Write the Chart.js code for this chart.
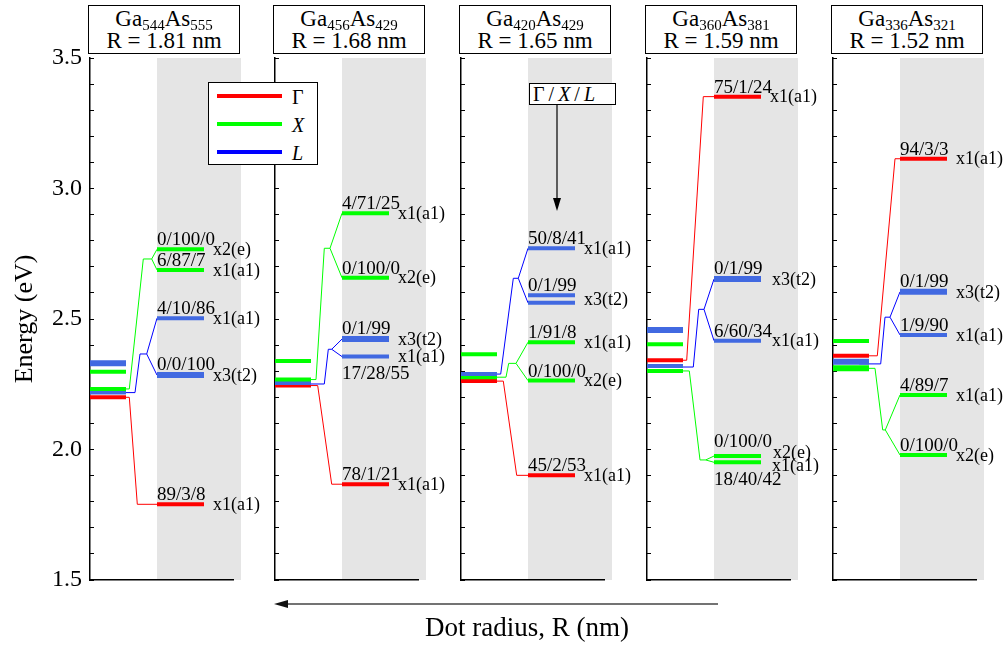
<!DOCTYPE html>
<html>
<head>
<meta charset="utf-8">
<script src="https://cdn.jsdelivr.net/npm/chart.js@4.4.1/dist/chart.umd.min.js"></script>
<style>
  body { margin: 0; background: #fff; font-family: 'Liberation Serif', serif; color: #000; }
  #wrap { position: relative; width: 1004px; height: 647px; overflow: hidden; }
  #wrap canvas { position: absolute; left: 0; top: 0; }
  .hdr { position: absolute; top: 5px; width: 152px; height: 49px; box-sizing: border-box;
         border: 1.5px solid #000; background: #fff; text-align: center;
         font-size: 23px; line-height: 19px; padding-top: 3px; }
  .hdr .sb { font-size: 15px; position: relative; top: 4px; }
  #legend { position: absolute; left: 208px; top: 82px; width: 110px; height: 83px; box-sizing: border-box;
            border: 1.3px solid #000; background: #fff; }
  #legend .ln { position: absolute; left: 8px; width: 65px; height: 4px; }
  #legend .lb { position: absolute; left: 83px; font-size: 20px; line-height: 20px; }
  #note { position: absolute; left: 529px; top: 83px; width: 87px; height: 22px; box-sizing: border-box;
          border: 1.2px solid #000; background: #fff; font-size: 20px; line-height: 20px; padding-left: 3px; }
  #xlab { position: absolute; left: 327px; top: 614px; width: 400px; text-align: center;
          font-size: 27px; line-height: 27px; }
  svg { position: absolute; left: 0; top: 0; }
</style>
</head>
<body>
<div id="wrap"></div>
<script>
// ---- data ----
const dotGa = ['544', '456', '420', '360', '336'];
const dotAs = ['555', '429', '429', '381', '321'];
const radii = ['1.81', '1.68', '1.65', '1.59', '1.52'];

// bulk-derived levels (left column): [band, energy eV, degeneracy]
const bulkLevels = [
  [['L', 2.330, 3], ['X', 2.298, 1], ['X', 2.232, 1], ['L', 2.218, 1], ['G', 2.200, 1]],
  [['X', 2.339, 1], ['X', 2.268, 1], ['L', 2.255, 1], ['G', 2.245, 1]],
  [['X', 2.365, 1], ['L', 2.289, 1], ['X', 2.277, 1], ['G', 2.262, 1]],
  [['L', 2.458, 3], ['X', 2.403, 1], ['G', 2.342, 1], ['L', 2.320, 1], ['X', 2.301, 1]],
  [['X', 2.416, 1], ['G', 2.359, 1], ['L', 2.336, 3], ['X', 2.311, 3]]
];

// dot levels (right column): [band, energies, Γ/X/L composition, degeneracy(symmetry)]
const dotLevels = [
  [['X', [2.767], '0/100/0', 'x2(e)'], ['X', [2.688], '6/87/7', 'x1(a1)'],
   ['L', [2.503], '4/10/86', 'x1(a1)'], ['L', [2.285], '0/0/100', 'x3(t2)'],
   ['G', [1.790], '89/3/8', 'x1(a1)']],
  [['X', [2.905], '4/71/25', 'x1(a1)'], ['X', [2.658], '0/100/0', 'x2(e)'],
   ['L', [2.423], '0/1/99', 'x3(t2)'], ['L', [2.356], '17/28/55', 'x1(a1)'],
   ['G', [1.867], '78/1/21', 'x1(a1)']],
  [['L', [2.771], '50/8/41', 'x1(a1)'], ['L', [2.591, 2.562], '0/1/99', 'x3(t2)'],
   ['X', [2.411], '1/91/8', 'x1(a1)'], ['X', [2.264], '0/100/0', 'x2(e)'],
   ['G', [1.901], '45/2/53', 'x1(a1)']],
  [['G', [3.352], '75/1/24', 'x1(a1)'], ['L', [2.653], '0/1/99', 'x3(t2)'],
   ['L', [2.417], '6/60/34', 'x1(a1)'], ['X', [1.975], '0/100/0', 'x2(e)'],
   ['X', [1.951], '18/40/42', 'x1(a1)']],
  [['G', [3.114], '94/3/3', 'x1(a1)'], ['L', [2.604], '0/1/99', 'x3(t2)'],
   ['L', [2.439], '1/9/90', 'x1(a1)'], ['X', [2.209], '4/89/7', 'x1(a1)'],
   ['X', [1.979], '0/100/0', 'x2(e)']]
];

// correlation lines: [band, trunk points [x, E], target energies]
const links = [
  [['G', [[36, 2.200], [39.3, 2.200], [47.3, 1.790]], [1.790]],
   ['X', [[36, 2.232], [39.3, 2.232], [53.3, 2.730], [61.7, 2.730]], [2.767, 2.688]],
   ['L', [[36, 2.218], [45, 2.218], [50, 2.366], [56.7, 2.366]], [2.503, 2.285]]],
  [['X', [[36, 2.268], [41, 2.268], [49.3, 2.771], [55, 2.771]], [2.905, 2.658]],
   ['L', [[36, 2.251], [49.3, 2.251], [53.3, 2.384], [56.7, 2.384]], [2.423, 2.356]],
   ['G', [[36, 2.245], [42.7, 2.245], [56.7, 1.867]], [1.867]]],
  [['L', [[36, 2.289], [39.7, 2.289], [52.3, 2.656], [57.3, 2.656]], [2.771, 2.562]],
   ['X', [[36, 2.277], [45, 2.277], [47.7, 2.330], [55, 2.330]], [2.411, 2.264]],
   ['G', [[36, 2.262], [42.3, 2.262], [55.7, 1.901]], [1.901]]],
  [['G', [[36, 2.342], [39.7, 2.342], [56.3, 3.352]], [3.352]],
   ['L', [[25.3, 2.316], [46.3, 2.316], [51.7, 2.537], [57, 2.537]], [2.653, 2.417]],
   ['X', [[36, 2.301], [42.3, 2.301], [53, 1.960], [58.7, 1.960]], [1.975, 1.951]]],
  [['G', [[36, 2.359], [44.3, 2.359], [62, 3.114]], [3.114]],
   ['L', [[26.3, 2.328], [47.7, 2.328], [52, 2.507], [57, 2.507]], [2.604, 2.439]],
   ['X', [[36, 2.311], [42, 2.311], [49.7, 2.075], [52.3, 2.075]], [2.209, 1.979]]]
];

// ---- layout / style ----
const panelLeft = [90, 275, 461, 647, 833];
const levelColor = { G: '#ff0000', X: '#00ff00', L: '#4169e1' };
const linkColor = { G: '#ff0000', X: '#00ff00', L: '#0000ff' };
const serif = 'Liberation Serif';
const compBelow = ['1-3', '3-4'];          // composition label placed under the line
const compNudge = { '3-3': -5 };           // vertical nudge of composition label
const degNudge = { '3-3': -4, '3-4': 3 };  // vertical nudge of degeneracy label
const degShift = { '3-3': 3, '3-4': 2, '3-1': 2, '3-2': 2 };

const wrap = document.getElementById('wrap');

function seg(points, color, width) {
  return {
    data: points.map(([x, y]) => ({ x: x, y: y })),
    borderColor: color, borderWidth: width, pointRadius: 0, showLine: true,
    tension: 0, borderCapStyle: 'butt', borderJoinStyle: 'miter', clip: false
  };
}

const panelPlugin = {
  id: 'panel',
  beforeDraw(chart) {
    const { ctx, scales: { x, y } } = chart;
    ctx.save();
    ctx.fillStyle = '#e5e5e5';
    const x0 = x.getPixelForValue(67), x1 = x.getPixelForValue(151);
    const y0 = y.getPixelForValue(3.5), y1 = y.getPixelForValue(1.5);
    ctx.fillRect(x0, y0, x1 - x0, y1 - y0);
    ctx.restore();
  },
  afterDatasetsDraw(chart) {
    const p = chart.options.plugins.panel.index;
    const { ctx, scales: { x, y } } = chart;
    ctx.save();
    ctx.fillStyle = '#000';
    dotLevels[p].forEach((lv, i) => {
      const key = p + '-' + i;
      const es = lv[1];
      const lw = (es.length === 1 && lv[3].startsWith('x3')) ? 6 : 4;
      const hi = y.getPixelForValue(Math.max(...es));
      const lo = y.getPixelForValue(Math.min(...es));
      const mid = y.getPixelForValue(es.reduce((a, b) => a + b, 0) / es.length);
      ctx.textAlign = 'left';
      ctx.font = '19px "' + serif + '"';
      if (compBelow.includes(key)) {
        ctx.textBaseline = 'top';
        ctx.fillText(lv[2], x.getPixelForValue(67), lo + lw / 2 + 6);
      } else {
        ctx.textBaseline = 'alphabetic';
        ctx.fillText(lv[2], x.getPixelForValue(67), hi - lw / 2 - 2 + (compNudge[key] || 0));
      }
      ctx.font = '18px "' + serif + '"';
      ctx.textBaseline = 'middle';
      ctx.fillText(lv[3], x.getPixelForValue(123 + (degShift[key] || 0)), mid + 1 + (degNudge[key] || 0));
    });
    ctx.restore();
  }
};

panelLeft.forEach((left, p) => {
  const canvas = document.createElement('canvas');
  canvas.width = 1004; canvas.height = 647;
  wrap.appendChild(canvas);

  const datasets = [];
  bulkLevels[p].forEach(([b, e, d]) => {
    datasets.push(seg([[0, e], [36, e]], levelColor[b], d === 3 ? 6 : 4));
  });
  dotLevels[p].forEach(([b, es, comp, deg]) => {
    const w = (es.length === 1 && deg.startsWith('x3')) ? 6 : 4;
    es.forEach(e => datasets.push(seg([[67, e], [114, e]], levelColor[b], w)));
  });
  links[p].forEach(([b, trunk, targets]) => {
    datasets.push(seg(trunk, linkColor[b], 1));
    const end = trunk[trunk.length - 1];
    targets.forEach(t => {
      if (Math.abs(t - end[1]) > 1e-9 || end[0] < 67) datasets.push(seg([end, [67, t]], linkColor[b], 1));
    });
  });

  new Chart(canvas, {
    type: 'scatter',
    data: { datasets: datasets },
    options: {
      responsive: false,
      animation: false,
      events: [],
      layout: { padding: { left: left - 80, right: 1004 - (left + 143), top: 58, bottom: 67 } },
      plugins: { legend: { display: false }, tooltip: { enabled: false }, panel: { index: p } },
      scales: {
        x: {
          type: 'linear', min: 0, max: 143, position: 'bottom',
          afterFit: s => { s.height = 0; },
          border: { display: true, color: '#000', width: 1.5 },
          grid: { display: false },
          ticks: { display: false }
        },
        y: {
          type: 'linear', min: 1.5, max: 3.5, position: 'left',
          afterFit: s => { s.width = 80; },
          border: { display: true, color: '#000', width: 1.5 },
          grid: { drawOnChartArea: false, drawTicks: true, tickLength: -4, color: '#000', lineWidth: 1 },
          ticks: {
            stepSize: 0.1, autoSkip: false, padding: 12, color: '#000',
            font: { family: serif, size: 24 },
            callback: v => (p === 0 && Math.abs(v * 2 - Math.round(v * 2)) < 1e-6) ? v.toFixed(1) : ''
          },
          title: {
            display: p === 0, text: 'Energy (eV)', color: '#000', padding: 0,
            font: { family: serif, size: 26 }
          }
        }
      }
    },
    plugins: [panelPlugin]
  });

  const h = document.createElement('div');
  h.className = 'hdr';
  h.style.left = (left - 2) + 'px';
  h.innerHTML = 'Ga<span class="sb">' + dotGa[p] + '</span>As<span class="sb">' + dotAs[p] +
    '</span><br>R = ' + radii[p] + ' nm';
  wrap.appendChild(h);
});

wrap.insertAdjacentHTML('beforeend', `
<svg width="1004" height="647">
  <line x1="557" y1="105" x2="557" y2="200" stroke="#000" stroke-width="1.2"/>
  <polygon points="557,211 553,198 561,198" fill="#000"/>
  <line x1="718" y1="604" x2="285" y2="604" stroke="#444" stroke-width="1.6"/>
  <polygon points="274,604 288,600 288,608" fill="#111"/>
</svg>
<div id="legend">
  <div class="ln" style="top:11px;background:#ff0000"></div>
  <div class="ln" style="top:39px;background:#00ff00"></div>
  <div class="ln" style="top:67px;background:#0000ff"></div>
  <div class="lb" style="top:4px">Γ</div>
  <div class="lb" style="top:32px"><i>X</i></div>
  <div class="lb" style="top:60px"><i>L</i></div>
</div>
<div id="note">Γ&thinsp;/&thinsp;<i>X</i>&thinsp;/&thinsp;<i>L</i></div>
<div id="xlab">Dot radius, R (nm)</div>
`);
</script>
</body>
</html>
